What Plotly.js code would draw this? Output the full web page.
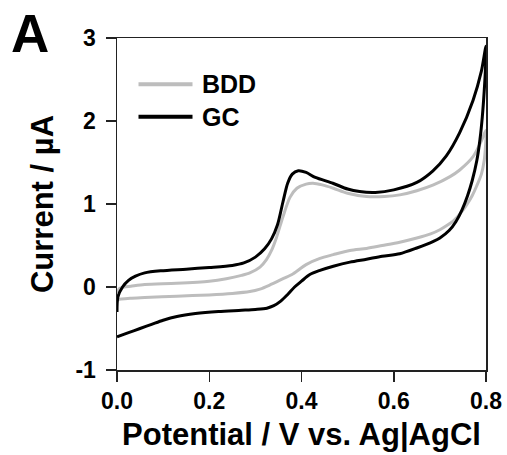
<!DOCTYPE html>
<html>
<head>
<meta charset="utf-8">
<script src="https://cdn.plot.ly/plotly-3.0.1.min.js"></script>
<style>html,body{margin:0;padding:0;background:#fff;}#chart{width:507px;height:455px;}</style>
</head>
<body>
<div id="chart"></div>
<script>
// GC electrode: forward then reverse scan (E in V, I in µA)
var gcE = [0.000,0.002,0.012,0.025,0.040,0.060,0.095,0.150,0.200,0.250,0.275,0.300,0.320,0.335,0.348,0.360,0.370,0.380,0.393,0.410,0.430,0.468,0.500,0.526,0.560,0.600,0.650,0.685,0.714,0.743,0.772,0.790,0.800,
           0.799,0.796,0.792,0.787,0.780,0.770,0.760,0.748,0.735,0.720,0.700,0.686,0.650,0.613,0.575,0.541,0.505,0.469,0.440,0.418,0.400,0.385,0.370,0.355,0.340,0.325,0.300,0.270,0.220,0.170,0.130,0.100,0.075,0.050,0.025,0.000];
var gcI = [-0.30,-0.12,0.00,0.08,0.13,0.17,0.195,0.215,0.235,0.26,0.29,0.36,0.46,0.58,0.75,1.03,1.25,1.36,1.40,1.38,1.32,1.25,1.18,1.15,1.14,1.17,1.26,1.40,1.58,1.86,2.25,2.60,2.90,
           2.65,2.35,2.05,1.78,1.52,1.28,1.10,0.93,0.79,0.68,0.59,0.55,0.47,0.40,0.37,0.335,0.30,0.25,0.20,0.15,0.07,0.00,-0.09,-0.17,-0.225,-0.255,-0.27,-0.28,-0.295,-0.32,-0.355,-0.40,-0.45,-0.50,-0.55,-0.60];
// BDD electrode
var bddE = [0.000,0.005,0.015,0.030,0.060,0.129,0.200,0.237,0.270,0.288,0.310,0.324,0.335,0.346,0.360,0.375,0.390,0.410,0.425,0.445,0.469,0.500,0.541,0.580,0.613,0.650,0.686,0.722,0.743,0.772,0.790,0.800,
            0.799,0.796,0.790,0.780,0.770,0.758,0.745,0.730,0.715,0.700,0.680,0.650,0.613,0.575,0.541,0.505,0.469,0.440,0.410,0.382,0.360,0.330,0.310,0.288,0.250,0.200,0.130,0.060,0.028,0.000];
var bddI = [-0.07,-0.02,0.00,0.01,0.03,0.045,0.07,0.10,0.14,0.17,0.24,0.33,0.44,0.60,0.85,1.08,1.19,1.24,1.25,1.23,1.19,1.13,1.09,1.09,1.11,1.16,1.23,1.33,1.41,1.57,1.76,1.89,
            1.70,1.52,1.36,1.22,1.10,0.99,0.89,0.80,0.74,0.69,0.64,0.59,0.54,0.50,0.465,0.44,0.39,0.345,0.27,0.16,0.10,0.02,-0.025,-0.055,-0.078,-0.095,-0.11,-0.128,-0.137,-0.15];
var seriesNames = ['BDD', 'GC'];
var xTicks = [0, 0.2, 0.4, 0.6, 0.8];
var xTickText = ['0.0', '0.2', '0.4', '0.6', '0.8'];
var yTicks = [-1, 0, 1, 2, 3];
var yTickText = ['-1', '0', '1', '2', '3'];

var FONT = 'Liberation Sans, Arial, Helvetica, sans-serif';
var W = 507, H = 455, M = {l: 117, r: 21, t: 38, b: 85};
var pw = W - M.l - M.r, ph = H - M.t - M.b;
function px2x(p) { return (p - M.l) / pw; }
function px2y(p) { return 1 - (p - M.t) / ph; }

var grayC = '#bdbdbd', blackC = '#000000';
var traces = [
  {x: bddE, y: bddI, name: seriesNames[0], mode: 'lines', line: {color: grayC, width: 3, shape: 'spline', smoothing: 0.8}, showlegend: false},
  {x: gcE, y: gcI, name: seriesNames[1], mode: 'lines', line: {color: blackC, width: 3, shape: 'spline', smoothing: 0.8}, showlegend: false}
];

var axisCommon = {
  showgrid: false, zeroline: false, showline: true, mirror: true,
  linecolor: '#222', linewidth: 1.5, ticks: 'outside', ticklen: 10, tickwidth: 1.5, tickcolor: '#222',
  tickfont: {family: FONT, size: 23, color: '#000', weight: 'bold'}
};

var layout = {
  width: W, height: H, margin: M,
  paper_bgcolor: '#fff', plot_bgcolor: '#fff',
  xaxis: Object.assign({}, axisCommon, {
    range: [0, 0.8], tickvals: xTicks, ticktext: xTickText,
    title: {text: 'Potential / V vs. Ag|AgCl', font: {family: FONT, size: 31, color: '#000', weight: 'bold'}, standoff: 10}
  }),
  yaxis: Object.assign({}, axisCommon, {
    range: [-1, 3], tickvals: yTicks, ticktext: yTickText, ticklabelstandoff: 5,
    title: {text: 'Current / µA', font: {family: FONT, size: 31, color: '#000', weight: 'bold'}, standoff: 12}
  }),
  shapes: [
    {type: 'line', xref: 'paper', yref: 'paper', x0: px2x(138.5), x1: px2x(192.5), y0: px2y(84.3), y1: px2y(84.3), line: {color: grayC, width: 4}},
    {type: 'line', xref: 'paper', yref: 'paper', x0: px2x(138.5), x1: px2x(192.5), y0: px2y(116.7), y1: px2y(116.7), line: {color: blackC, width: 4}}
  ],
  annotations: [
    {text: 'A', xref: 'paper', yref: 'paper', x: px2x(9), y: px2y(33), xanchor: 'left', yanchor: 'middle', showarrow: false,
     font: {family: FONT, size: 53, color: '#000', weight: 'bold'}},
    {text: seriesNames[0], xref: 'paper', yref: 'paper', x: px2x(200), y: px2y(84.3), xanchor: 'left', yanchor: 'middle', showarrow: false,
     font: {family: FONT, size: 25, color: '#000', weight: 'bold'}},
    {text: seriesNames[1], xref: 'paper', yref: 'paper', x: px2x(200), y: px2y(116.7), xanchor: 'left', yanchor: 'middle', showarrow: false,
     font: {family: FONT, size: 25, color: '#000', weight: 'bold'}}
  ],
  showlegend: false
};

Plotly.newPlot('chart', traces, layout, {staticPlot: true, displayModeBar: false});
</script>
</body>
</html>
